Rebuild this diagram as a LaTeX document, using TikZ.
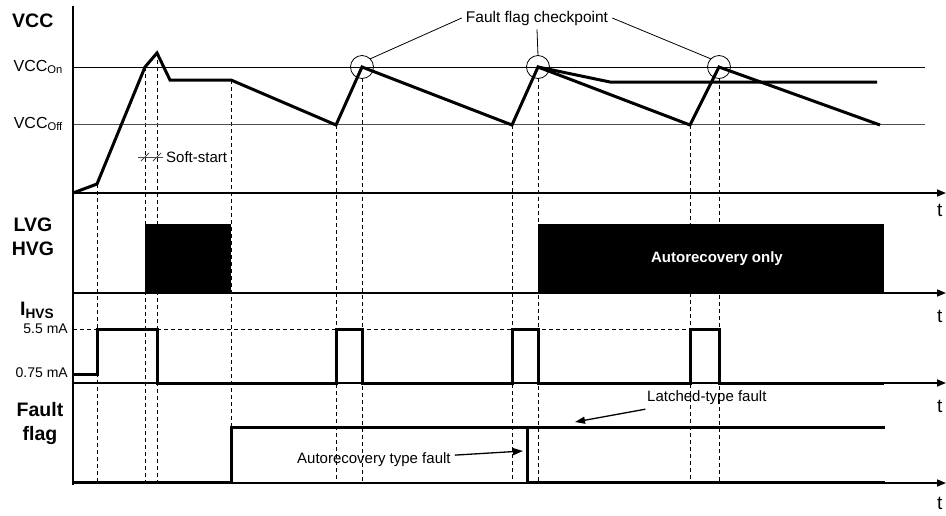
\documentclass[tikz,border=0pt]{standalone}
\usepackage{fontspec}
\setmainfont{Liberation Sans}
\usetikzlibrary{arrows.meta}

\begin{document}
\begin{tikzpicture}[
  x = 1pt, y = -1pt,
  wave/.style = {line width = 3pt},
  level/.style = {line width = 1pt},
  guide/.style = {line width = 0.8pt, dash pattern = on 4pt off 3pt},
  timeaxis/.style = {line width = 1.6pt, -{Triangle[length = 9pt, width = 7pt]}},
  pointer/.style = {line width = 1.3pt, -{Triangle[length = 10pt, width = 7pt]}},
  checkpoint/.style = {
    shape = circle,
    draw = black,
    line width = 0.8pt,
    minimum size = 23pt,
    inner sep = 0pt,
    outer sep = 0pt,
  },
  signal/.style = {font = \fontsize{19.5}{24}\selectfont\bfseries, align = center, inner sep = 0pt},
  note/.style = {font = \fontsize{15}{17}\selectfont, inner sep = 1pt},
  tlabel/.style = {font = \fontsize{19}{20}\selectfont, inner sep = 0pt}
]
  \useasboundingbox (0, 0) rectangle (946, 515);

  \foreach \x/\top in {97/184, 145/67, 157/53, 231/80, 336/125, 362/78,
                       512/125, 538/78, 690/125, 719/78}
    \draw[guide] (\x, \top) -- (\x, 483);

  \draw[level] (73, 67) -- (925, 67);
  \draw[level, black!70] (73, 124) -- (925, 124);
  \draw[guide] (73, 329) -- (690, 329);

  \fill (145, 224) rectangle (231, 293);
  \fill (538, 224) rectangle (884, 293);
  \node[note, font = \fontsize{15}{17}\selectfont\bfseries, text = white] (aronly) at (717, 259) {Autorecovery only};

  \node[signal, anchor = west] (vcc) at (12, 21) {VCC};
  \node[note, font = \fontsize{16}{18}\selectfont, anchor = east] (vccon) at (64, 67) {VCC\textsubscript{On}};
  \node[note, font = \fontsize{16}{18}\selectfont, anchor = east] (vccoff) at (64, 124) {VCC\textsubscript{Off}};
  \node[signal] (gates) at (33, 237) {LVG\\HVG};
  \node[signal, anchor = west] (ihvs) at (20, 310) {I\textsubscript{HVS}};
  \node[note, font = \fontsize{14}{16}\selectfont, anchor = east] (high) at (69, 329) {5.5 mA};
  \node[note, font = \fontsize{14}{16}\selectfont, anchor = east] (low) at (69, 373) {0.75 mA};
  \node[signal] (flag) at (40, 423) {Fault\\flag};

  \draw[wave] (73, 193) -- (97, 184) -- (145, 67) -- (157, 53) -- (170, 80)
    -- (231, 80) -- (336, 125) -- (362, 67) -- (512, 125) -- (538, 67)
    -- (690, 125) -- (719, 67) -- (880, 125);
  \draw[wave] (538, 67) -- (610, 82) -- (877, 82);

  \draw[wave] (73, 374) -- (97, 374) -- (97, 329) -- (157, 329) -- (157, 383)
    -- (336, 383) -- (336, 329) -- (362, 329) -- (362, 383)
    -- (512, 383) -- (512, 329) -- (538, 329) -- (538, 383)
    -- (690, 383) -- (690, 329) -- (719, 329) -- (719, 383) -- (884, 383);

  \draw[wave] (73, 482) -- (231, 482) -- (231, 427) -- (885, 427);
  \draw[wave] (527, 427) -- (527, 482) -- (885, 482);

  \draw[line width = 2pt] (73, 6) -- (73, 485);
  \foreach \y/\ty in {193/210, 293/316, 383/406, 483/503} {
    \draw[timeaxis] (73, \y) -- (946, \y);
    \node[tlabel, anchor = west] (t\y) at (937, \ty) {t};
  }

  \node[checkpoint] (cp1) at (362, 67) {};
  \node[checkpoint] (cp2) at (538, 67) {};
  \node[checkpoint] (cp3) at (719, 67) {};
  \node[note, font = \fontsize{15.5}{17}\selectfont, inner sep = 4pt] (ffc) at (537, 18) {Fault flag checkpoint};
  \draw[line width = 0.8pt] (ffc.west) -- (cp1.north east);
  \draw[line width = 0.8pt] (ffc.south) -- (cp2.north);
  \draw[line width = 0.8pt] (ffc.east) -- (cp3.north west);

  \draw[level, black!70] (138, 157) -- (163, 157);
  \foreach \x in {145, 157}
    \draw[level, black!70] (\x - 4, 161) -- (\x + 4, 153);
  \node[note, anchor = west] (softstart) at (165, 157) {Soft-start};

  \node[note, anchor = west, inner sep = 4pt] (arfault) at (293, 460) {Autorecovery type fault};
  \coordinate (artip) at (523, 451);
  \draw[pointer] (arfault) -- (artip);

  \node[note, anchor = west, inner sep = 4pt] (latched) at (643, 398) {Latched-type fault};
  \coordinate (latchtip) at (575, 422);
  \draw[pointer] (latched) -- (latchtip);
\end{tikzpicture}
\end{document}
